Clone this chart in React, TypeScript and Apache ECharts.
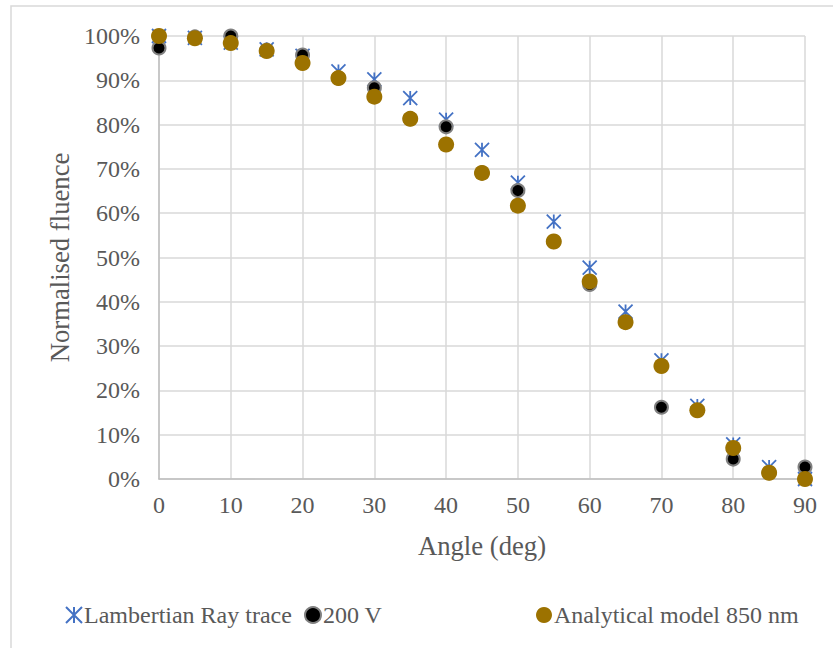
import React, { useEffect, useRef } from "react";
import * as echarts from "echarts";

// Angle of emission (degrees)
const angles = [0, 5, 10, 15, 20, 25, 30, 35, 40, 45, 50, 55, 60, 65, 70, 75, 80, 85, 90];

// Normalised fluence (%)
const lambertian = [100, 99.6, 98.5, 97, 95.5, 92, 90.2, 86, 81.1, 74.3, 66.9, 58.1, 47.7, 37.8, 26.8, 16.5, 7.8, 2.7, 0];
const volt200 = [97.3, 99.8, 100, 96.8, 95.7, 90.5, 88.3, 81.3, 79.5, 69.1, 65.1, 53.6, 43.9, 35.4, 16.2, 15.5, 4.5, 1.4, 2.7];
const analytical = [100, 99.5, 98.4, 96.6, 93.9, 90.5, 86.3, 81.3, 75.5, 69.1, 61.7, 53.6, 44.6, 35.4, 25.5, 15.5, 7.0, 1.4, 0];

const seriesNames = ["Lambertian Ray trace", "200 V", "Analytical model 850 nm"];

const FONT = '"Liberation Serif", "Times New Roman", serif';
const TEXT = "#595959";
const ASTERISK = "path://M0,0L10,10M10,0L0,10M5,0L5,10";

const pairs = (ys: number[]) => angles.map((a, i) => [a, ys[i]]);

export default function App() {
  const ref = useRef<HTMLDivElement>(null);

  useEffect(() => {
    if (!ref.current) return;
    const chart = echarts.init(ref.current, undefined, { renderer: "svg" });
    const legendBase = {
      top: 603,
      padding: 0,
      itemWidth: 16,
      itemHeight: 16,
      itemGap: 0,
      textStyle: { fontFamily: FONT, fontSize: 24, color: TEXT, padding: [0, 0, 0, -3] },
    };
    chart.setOption({
      animation: false,
      backgroundColor: "#ffffff",
      graphic: [
        {
          type: "rect",
          shape: { x: 11, y: 6, width: 840, height: 660 },
          style: { fill: "none", stroke: "#D9D9D9", lineWidth: 1.5 },
          silent: true,
        },
      ],
      grid: { left: 159, right: 28, top: 36, bottom: 169 },
      legend: [
        { ...legendBase, left: 65, data: [seriesNames[0]] },
        { ...legendBase, left: 304, data: [seriesNames[1]] },
        { ...legendBase, left: 536, data: [seriesNames[2]] },
      ],
      xAxis: {
        type: "value",
        min: 0,
        max: 90,
        interval: 10,
        name: "Angle (deg)",
        nameLocation: "middle",
        nameGap: 53,
        nameTextStyle: { fontFamily: FONT, fontSize: 26.7, color: TEXT },
        axisLine: { lineStyle: { color: "#BFBFBF", width: 1.5 } },
        axisTick: { show: false },
        axisLabel: { fontFamily: FONT, fontSize: 24, color: TEXT, margin: 14 },
        splitLine: { lineStyle: { color: "#D9D9D9", width: 1.5 } },
      },
      yAxis: {
        type: "value",
        min: 0,
        max: 100,
        interval: 10,
        name: "Normalised fluence",
        nameLocation: "middle",
        nameGap: 77,
        nameTextStyle: { fontFamily: FONT, fontSize: 26.7, color: TEXT },
        axisLine: { show: true, lineStyle: { color: "#BFBFBF", width: 1.5 } },
        axisTick: { show: false },
        axisLabel: { fontFamily: FONT, fontSize: 24, color: TEXT, margin: 19, formatter: "{value}%" },
        splitLine: { lineStyle: { color: "#D9D9D9", width: 1.5 } },
      },
      series: [
        {
          name: seriesNames[0],
          type: "scatter",
          data: pairs(lambertian),
          symbol: ASTERISK,
          symbolSize: 14,
          itemStyle: { color: "rgba(0,0,0,0)", borderColor: "#4472C4", borderWidth: 1.8, opacity: 1 },
          z: 2,
        },
        {
          name: seriesNames[1],
          type: "scatter",
          data: pairs(volt200),
          symbol: "circle",
          symbolSize: 13,
          itemStyle: { color: "#000000", borderColor: "#808080", borderWidth: 2, opacity: 1 },
          z: 3,
        },
        {
          name: seriesNames[2],
          type: "scatter",
          data: pairs(analytical),
          symbol: "circle",
          symbolSize: 16,
          itemStyle: { color: "#9C7200", opacity: 1 },
          z: 4,
        },
      ],
    });
    return () => chart.dispose();
  }, []);

  return (
    <div
      ref={ref}
      style={{ position: "fixed", left: 0, top: 0, width: 833, height: 648, background: "#fff" }}
    />
  );
}
